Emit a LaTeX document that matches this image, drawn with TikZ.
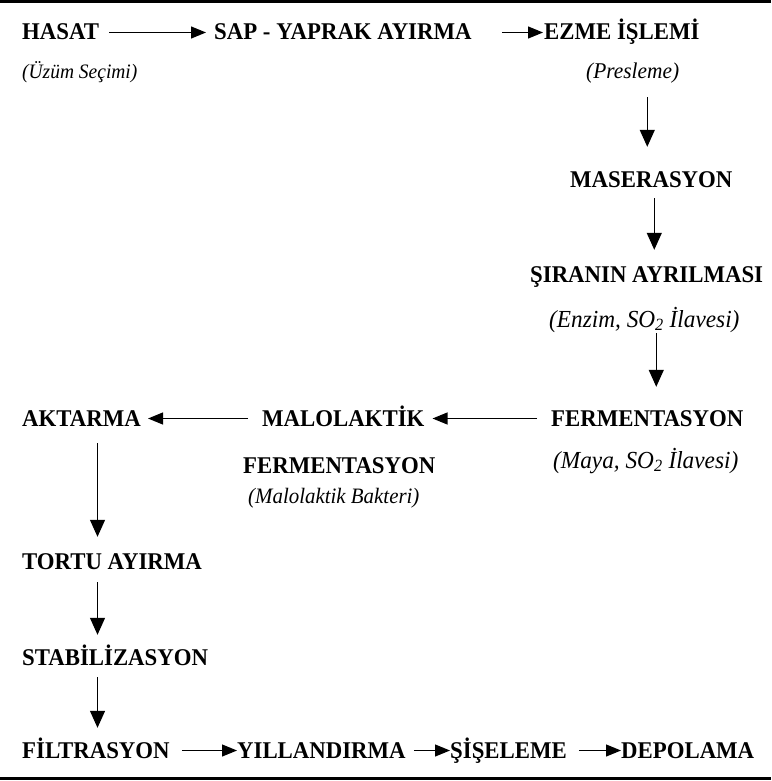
\documentclass[tikz,border=0pt]{standalone}
\usepackage{fontspec}
\setmainfont{Liberation Serif}
\newfontfamily\flowfont{Liberation Serif}[FakeStretch=0.95]
\usetikzlibrary{arrows.meta, positioning}

\begin{document}
\begin{tikzpicture}[
    x=1pt, y=-1pt,
    stage/.style={inner sep=0pt, text height=17pt, text depth=2pt, anchor=base west, font=\fontsize{24}{28}\selectfont\flowfont\bfseries},
    note/.style={inner sep=0pt, text height=17pt, text depth=2pt, anchor=base west, font=\fontsize{22}{26}\selectfont\flowfont\itshape},
    arrow/.style={-{Triangle[length=15pt,width=12pt]}, line width=1.2pt},
    down/.style={-{Triangle[length=17pt,width=15pt]}, line width=1.2pt},
    rule/.style={line width=3pt}
]
    \useasboundingbox (0,0) rectangle (771,781);
    \draw[rule] (0,1.5) -- (771,1.5);
    \draw[rule] (0,778) -- (771,778);

    % top row
    \node[stage] (hasat) at (22,40) {HASAT};
    \node[stage] (sap) at (214,40) {SAP - YAPRAK AYIRMA};
    \node[stage] (ezme) at (544,40) {EZME İŞLEMİ};
    \node[note, font=\fontsize{20.5}{24}\selectfont\flowfont\itshape] (uzum) at (22,79) {(Üzüm Seçimi)};
    \node[note, font=\fontsize{22.5}{26}\selectfont\flowfont\itshape] (pres) at (586,79) {(Presleme)};

    % right column
    \node[stage] (maser) at (570,187) {MASERASYON};
    \node[stage] (sira) at (530,282) {ŞIRANIN AYRILMASI};
    \node[note, font=\fontsize{24.5}{28}\selectfont\flowfont\itshape] (enzim) at (549,327) {(Enzim, SO\textsubscript{2} İlavesi)};
    \node[stage] (ferm) at (551,426) {FERMENTASYON};
    \node[note, font=\fontsize{24.5}{28}\selectfont\flowfont\itshape] (maya) at (553,468) {(Maya, SO\textsubscript{2} İlavesi)};

    % middle row
    \node[stage] (malo) at (262,426) {MALOLAKTİK};
    \node[stage] (malo2) at (243,473) {FERMENTASYON};
    \node[note] (bakteri) at (248,503) {(Malolaktik Bakteri)};
    \node[stage] (aktar) at (22,426) {AKTARMA};

    % left column
    \node[stage] (tortu) at (22,569) {TORTU AYIRMA};
    \node[stage] (stab) at (22,665) {STABİLİZASYON};

    % bottom row
    \node[stage] (filt) at (22,758) {FİLTRASYON};
    \node[stage] (yil) at (237,758) {YILLANDIRMA};
    \node[stage] (sise) at (450,758) {ŞİŞELEME};
    \node[stage] (depo) at (621,758) {DEPOLAMA};

    \draw[arrow, shorten <=10pt, shorten >=8pt] (hasat.east) -- (sap.west);
    \draw[arrow, shorten <=30pt, shorten >=1pt] (sap.east) -- (ezme.west);
    \draw[down, shorten <=16pt, shorten >=23pt] ([xshift=-4pt]maser.north |- pres.south) -- ([xshift=-4pt]maser.north);
    \draw[down, shorten <=9pt, shorten >=15pt] ([xshift=3pt]maser.south) -- ([xshift=3pt]maser.south |- sira.north);
    \draw[down, shorten <=4pt, shorten >=22pt] ([xshift=9pt]ferm.north |- enzim.south) -- ([xshift=9pt]ferm.north);
    \draw[arrow, shorten <=14pt, shorten >=8pt] (ferm.west) -- (malo.east);
    \draw[arrow, shorten <=14pt, shorten >=7pt] (malo.west) -- (aktar.east);
    \draw[down, shorten <=15pt, shorten >=15pt] ([xshift=16pt]aktar.south) -- ([xshift=16pt]aktar.south |- tortu.north);
    \draw[down, shorten <=11pt, shorten >=13pt] ([xshift=16pt]aktar.south |- tortu.south) -- ([xshift=16pt]aktar.south |- stab.north);
    \draw[down, shorten <=10pt, shorten >=13pt] ([xshift=16pt]aktar.south |- stab.south) -- ([xshift=16pt]aktar.south |- filt.north);
    \draw[arrow, shorten <=12pt] (filt.east) -- (yil.west);
    \draw[arrow, shorten <=8pt] (yil.east) -- (sise.west);
    \draw[arrow, shorten <=12pt] (sise.east) -- (depo.west);
\end{tikzpicture}
\end{document}
